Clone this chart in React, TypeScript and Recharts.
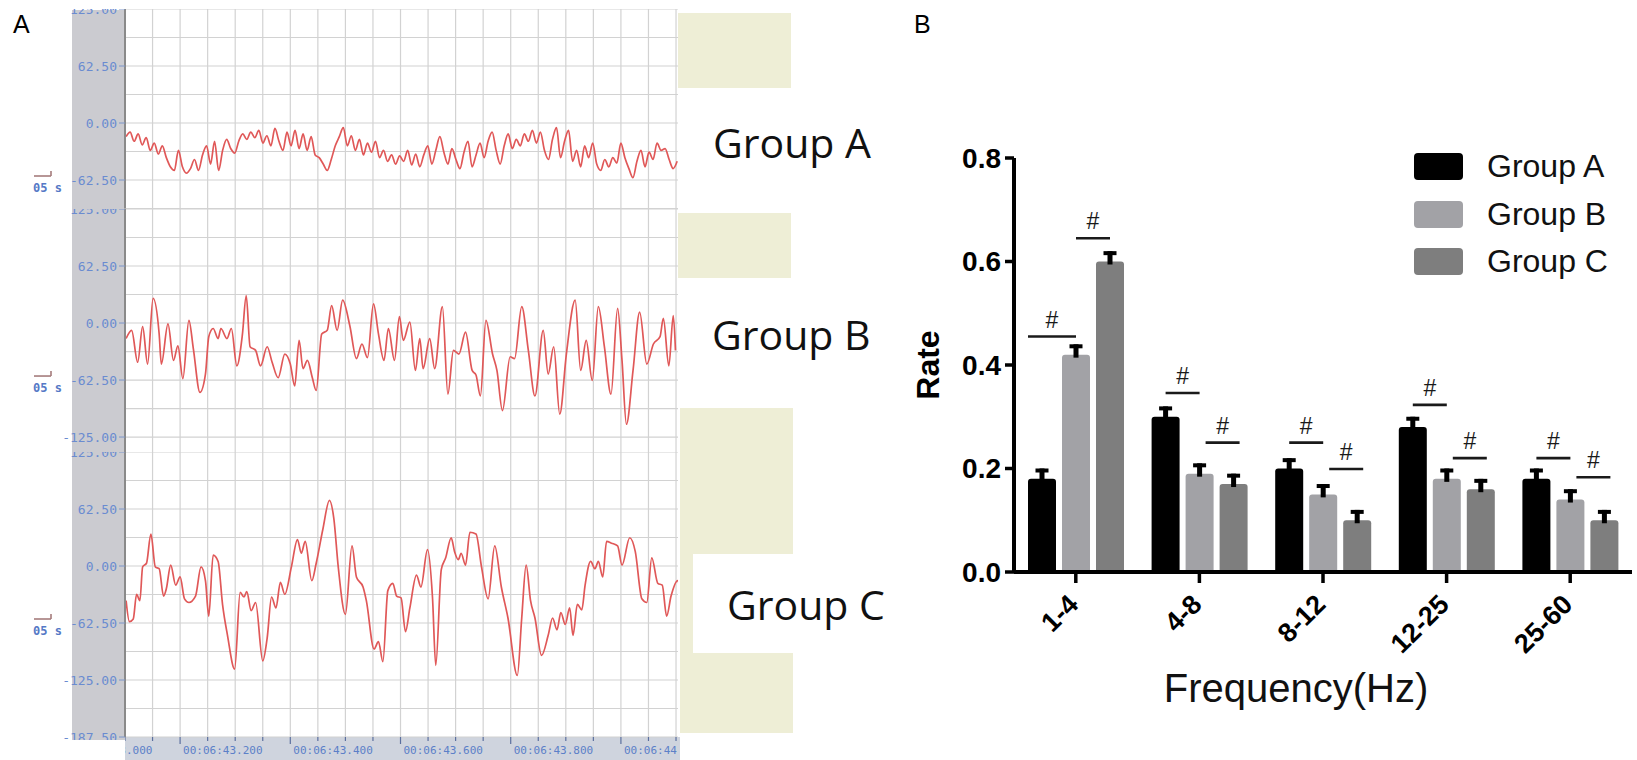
import { BarChart, Bar, XAxis, YAxis, Legend, Label, LineChart, Line, CartesianGrid } from 'recharts'

// ---------- Panel B data ----------
const bands = ['1-4', '4-8', '8-12', '12-25', '25-60']
const groupA = [0.18, 0.3, 0.2, 0.28, 0.18]
const groupB = [0.42, 0.19, 0.15, 0.18, 0.14]
const groupC = [0.6, 0.17, 0.1, 0.16, 0.1]
const semA = [0.02, 0.02, 0.02, 0.02, 0.02]
const semB = [0.02, 0.02, 0.02, 0.02, 0.02]
const semC = [0.02, 0.02, 0.02, 0.02, 0.02]
// height of the "#" bracket, A vs B and B vs C
const sigAB = [0.455, 0.346, 0.25, 0.323, 0.22]
const sigBC = [0.645, 0.25, 0.199, 0.22, 0.183]
const rateTicks = [0, 0.2, 0.4, 0.6, 0.8]

// ---------- Panel A data (EEG, microvolts) ----------
const T0 = 43.1 // 00:06:43.100
const groupATraceStartMs = 2
const groupATraceStepMs = 7.3
const groupATrace = [
	-15, -10, -20, -12, -24, -16, -30, -22, -34, -25,
	-38, -48, -52, -30, -48, -55, -50, -40, -52, -35,
	-25, -45, -20, -52, -30, -18, -28, -33, -20, -12,
	-18, -10, -16, -8, -22, -14, -25, -6, -20, -30,
	-10, -25, -8, -28, -12, -30, -15, -35, -38, -45,
	-52, -40, -25, -15, -5, -25, -14, -30, -18, -35,
	-22, -32, -20, -38, -30, -42, -35, -45, -36, -42,
	-30, -46, -34, -48, -35, -25, -45, -30, -15, -32,
	-45, -28, -40, -50, -32, -20, -48, -35, -22, -38,
	-20, -10, -30, -45, -25, -12, -28, -18, -25, -12,
	-20, -8, -22, -10, -30, -40, -18, -5, -38, -20,
	-8, -42, -30, -48, -25, -38, -22, -45, -52, -40,
	-48, -38, -44, -22, -38, -50, -60, -42, -30, -48,
	-32, -40, -22, -30, -28, -40, -50, -42,
]
// [ms after 43.100 s, value]
const groupBTrace: [number, number][] = [
	[2, -17], [12, -8], [23, -43], [32, -4], [41, -45], [51, 27], [62, -12], [66, -45], [78, -1], [88, -41],
	[96, -25], [105, -61], [116, 3], [124, -28], [136, -76], [146, -56], [152, -15], [160, -6], [169, -17], [174, -6],
	[185, -17], [193, -6], [203, -47], [213, -13], [220, 30], [227, -26], [237, -30], [246, -47], [258, -26], [267, -43],
	[278, -60], [290, -34], [300, -45], [308, -69], [316, -19], [323, -50], [331, -41], [340, -60], [347, -74], [357, -12],
	[367, -8], [375, 19], [385, -8], [395, 25], [408, -3], [420, -39], [430, -23], [440, -38], [451, 21], [460, -12],
	[470, -41], [478, -6], [489, -41], [498, 7], [505, -19], [517, 1], [527, -52], [535, -17], [541, -50], [553, -17],
	[562, -50], [576, 18], [586, -78], [596, -30], [606, -34], [618, -10], [630, -52], [637, -57], [645, -80], [655, 3],
	[667, -34], [675, -52], [685, -96], [699, -37], [707, -39], [720, 18], [732, -30], [744, -80], [759, -8], [768, -56],
	[778, -26], [789, -100], [801, -34], [817, 25], [827, -52], [837, -19], [848, -63], [859, 18], [870, -26], [882, -78],
	[894, 16], [902, -41], [910, -111], [922, -52], [934, 12], [947, -45], [959, -23], [971, -15], [977, 5], [987, -47],
	[995, 8], [999, -30],
]
const groupCTrace: [number, number][] = [
	[2, -38], [8, -61], [15, -58], [21, -31], [27, -38], [32, -1], [39, 3], [47, 35], [55, -1], [62, -3],
	[70, -33], [75, -25], [83, 1], [92, -21], [100, -12], [108, -36], [116, -40], [128, -33], [138, -1], [146, -16],
	[152, -55], [160, 12], [169, 5], [177, -42], [186, -76], [199, -113], [209, -29], [216, -34], [221, -28], [229, -49],
	[237, -40], [250, -104], [258, -79], [266, -34], [274, -46], [282, -18], [290, -31], [302, -1], [313, 29], [320, 14],
	[327, 27], [339, -16], [347, 3], [359, 40], [371, 72], [379, 52], [387, -1], [400, -53], [412, 22], [420, -12],
	[432, -23], [438, -38], [452, -91], [460, -83], [468, -105], [477, -27], [486, -19], [493, -33], [501, -35], [509, -72],
	[517, -46], [529, -10], [537, -23], [549, 18], [558, -34], [564, -109], [574, -4], [582, 9], [592, 31], [598, 16],
	[605, 7], [610, 14], [618, 1], [626, 37], [637, 35], [647, -1], [659, -36], [671, 22], [683, -23], [695, -57],
	[712, -120], [720, -57], [728, 1], [736, -38], [744, -57], [756, -98], [768, -76], [776, -57], [784, -70], [791, -51],
	[799, -64], [807, -46], [813, -76], [821, -42], [829, -48], [835, -21], [845, 5], [853, -3], [859, 5], [867, -12],
	[874, 27], [883, 25], [894, 22], [902, 1], [916, 31], [926, 16], [938, -36], [947, -40], [956, 9], [967, -19],
	[975, -21], [983, -55], [991, -33], [1003, -16], [1010, -70],
]
const channelTicks = [125, 62.5, 0, -62.5, -125, -187.5]

const TIME_DOMAIN: [number, number] = [43.1, 44.1036]
const gridTimes: number[] = []
for (let k = 4310; k <= 4410; k += 5) gridTimes.push(k / 100)
const timeTicks: number[] = []
for (let k = 4300; k <= 4410; k += 5) timeTicks.push(k / 100)

const SANS = '"Liberation Sans", Arial, sans-serif'
const MONO = '"DejaVu Sans Mono", monospace'
const OPEN = '"Open Sans", sans-serif'
const BEIGE = '#eeeed6'
const BAR_GAP = 6

const rowsA = groupATrace.map((v, i) => ({ t: T0 + (groupATraceStartMs + i * groupATraceStepMs) / 1000, v }))
const toRows = (pts: [number, number][]) => pts.map(([ms, v]) => ({ t: T0 + ms / 1000, v }))

function EegTick(props: any) {
	const { x, y, payload } = props
	const v = payload.value as number
	return (
		<g>
			<text x={x} y={y} dy={4.5} textAnchor="end" fontFamily={MONO} fontSize={13} fill="#6a8bd0">
				{v.toFixed(2)}
			</text>
			{v === -62.5 && (
				<g>
					<line x1={34} x2={51} y1={y - 4} y2={y - 4} stroke="#a57c7c" strokeWidth={1.6} />
					<line x1={51} x2={51} y1={y - 9} y2={y - 4} stroke="#a57c7c" strokeWidth={1.6} />
					<text x={33} y={y + 12} fontFamily={MONO} fontSize={12} fontWeight={700} fill="#5579c6">
						05 s
					</text>
				</g>
			)}
		</g>
	)
}

function TimeTick(props: any) {
	const { x, y, payload } = props
	const t = payload.value as number
	const major = Math.round(t * 100) % 20 === 0
	return (
		<g>
			<line x1={x} x2={x} y1={y} y2={y + (major ? 7 : 4)} stroke="#5b6f9e" strokeWidth={1.2} />
			{major && (
				<text x={x + 3} y={y + 17} fontFamily={MONO} fontSize={11} fill="#5c80c8">
					{`00:06:${t.toFixed(3)}`}
				</text>
			)}
		</g>
	)
}

type ChannelProps = {
	rows: { t: number; v: number }[]
	top: number
	plotHeight: number
	domain: [number, number]
	bottomPad?: number
}

function Channel({ rows, top, plotHeight, domain, bottomPad = 0 }: ChannelProps) {
	const ticks = channelTicks.filter((v) => v >= domain[0] - 0.01 && v <= domain[1] + 0.01)
	const gridValues: number[] = []
	for (let k = -6; k <= 4; k++) {
		const v = k * 31.25
		if (v >= domain[0] - 0.01 && v <= domain[1] + 0.01) gridValues.push(v)
	}
	const vGen = (p: any) => {
		const s = p?.xAxis?.scale
		if (typeof s === 'function') return gridTimes.map((t) => s(t))
		const o = p.offset
		return gridTimes.map((t) => o.left + ((t - TIME_DOMAIN[0]) / (TIME_DOMAIN[1] - TIME_DOMAIN[0])) * o.width)
	}
	const hGen = (p: any) => {
		const s = p?.yAxis?.scale
		if (typeof s === 'function') return gridValues.map((v) => s(v))
		const o = p.offset
		return gridValues.map((v) => o.top + ((domain[1] - v) / (domain[1] - domain[0])) * o.height)
	}
	return (
		<div style={{ position: 'absolute', left: 0, top }}>
			<LineChart
				width={678}
				height={plotHeight + bottomPad}
				data={rows}
				margin={{ top: 0, right: 0, bottom: bottomPad, left: 72 }}
			>
				<CartesianGrid
					stroke="#d2d2d2"
					strokeWidth={1.2}
					verticalCoordinatesGenerator={vGen}
					horizontalCoordinatesGenerator={hGen}
				/>
				<XAxis dataKey="t" type="number" domain={TIME_DOMAIN} allowDataOverflow hide />
				<YAxis
					type="number"
					domain={domain}
					allowDataOverflow
					ticks={ticks}
					interval={0}
					width={53}
					tickSize={6}
					tickMargin={2}
					axisLine={{ stroke: '#8a8a8a', strokeWidth: 2 }}
					tickLine={{ stroke: '#7d96c9' }}
					tick={<EegTick />}
				/>
				<Line
					dataKey="v"
					type="monotone"
					stroke="#e05858"
					strokeWidth={1.7}
					dot={false}
					isAnimationActive={false}
				/>
			</LineChart>
		</div>
	)
}

function makeBarShape(key: 'a' | 'b' | 'c') {
	return (props: any) => {
		const { x, y, width, height, fill, payload } = props
		const value = payload[key] as number
		const err = payload['sem_' + key] as number
		const base = y + height
		const ppu = height / value
		const cx = x + width / 2
		const r = 3
		const d = `M${x},${base} L${x},${y + r} Q${x},${y} ${x + r},${y} L${x + width - r},${y} Q${x + width},${y} ${x + width},${y + r} L${x + width},${base} Z`
		const capY = y - err * ppu
		let sig = null
		if (key === 'b' || key === 'c') {
			const level = key === 'b' ? payload.sigAB : payload.sigBC
			const shift = key === 'c' && payload.band !== '1-4' ? 6 : 0
			const x1 = cx - (width + BAR_GAP) + shift - (key === 'b' && payload.band === '1-4' ? 14 : 0)
			const x2 = cx + shift
			const ly = base - level * ppu
			sig = (
				<g>
					<line x1={x1} x2={x2} y1={ly} y2={ly} stroke="#1a1a1a" strokeWidth={2.6} />
					<text x={(x1 + x2) / 2} y={ly - 9} textAnchor="middle" fontFamily={SANS} fontSize={23} fill="#1a1a1a">
						#
					</text>
				</g>
			)
		}
		return (
			<g>
				<path d={d} fill={fill} />
				<rect x={cx - 2.5} y={capY} width={5} height={y - capY + 3} fill="#000" />
				<rect x={cx - 6.5} y={capY} width={13} height={4} fill="#000" />
				{sig}
			</g>
		)
	}
}

function BandTick(props: any) {
	const { x, y, payload } = props
	const ax = x + 4
	const ay = y + 21
	return (
		<text
			x={ax}
			y={ay}
			textAnchor="end"
			transform={`rotate(-45 ${ax} ${ay})`}
			fontFamily={SANS}
			fontSize={27}
			fontWeight={700}
			fill="#000"
		>
			{payload.value}
		</text>
	)
}

const renderLegend = (props: any) => (
	<div style={{ fontFamily: SANS, fontSize: 32, color: '#111' }}>
		{props.payload.map((entry: any) => (
			<div key={entry.value} style={{ display: 'flex', alignItems: 'center', height: 47.5 }}>
				<span
					style={{
						display: 'inline-block',
						width: 49,
						height: 27,
						background: entry.color,
						borderRadius: 4,
						marginRight: 24,
					}}
				/>
				<span>{entry.value}</span>
			</div>
		))}
	</div>
)

export default function App() {
	const barRows = bands.map((band, i) => ({
		band,
		a: groupA[i],
		b: groupB[i],
		c: groupC[i],
		sem_a: semA[i],
		sem_b: semB[i],
		sem_c: semC[i],
		sigAB: sigAB[i],
		sigBC: sigBC[i],
	}))

	return (
		<div style={{ position: 'absolute', left: 0, top: 0, width: 1637, height: 760, background: '#fff' }}>
			<svg width={1637} height={760} style={{ position: 'absolute', left: 0, top: 0 }}>
				<rect x={72} y={10} width={53} height={730} fill="#cbcbd0" />
				<rect x={125} y={737} width={555} height={23} fill="#cfd4de" />
				<rect x={678} y={13} width={113} height={75} fill={BEIGE} />
				<rect x={678} y={213} width={113} height={65} fill={BEIGE} />
				<rect x={680} y={408} width={113} height={325} fill={BEIGE} />
				<rect x={693} y={554} width={130} height={99} fill="#fff" />
				<text x={13} y={33} fontFamily={SANS} fontSize={25} fill="#000">A</text>
				<text x={914} y={33} fontFamily={SANS} fontSize={25} fill="#000">B</text>
				<text x={713} y={158} fontFamily={OPEN} fontSize={41} fill="#111">Group A</text>
				<text x={712} y={350} fontFamily={OPEN} fontSize={41} fill="#111">Group B</text>
				<text x={727} y={620} fontFamily={OPEN} fontSize={41} fill="#111">Group C</text>
			</svg>

			<Channel rows={rowsA} top={9} plotHeight={199.5} domain={[-93.75, 125]} />
			<Channel rows={toRows(groupBTrace)} top={209} plotHeight={243} domain={[-141.4, 125]} />
			<Channel rows={toRows(groupCTrace)} top={452} plotHeight={285} domain={[-187.5, 125]} bottomPad={3} />

			<div style={{ position: 'absolute', left: 125, top: 600 }}>
				<LineChart width={553} height={160} data={toRows(groupCTrace)} margin={{ top: 0, right: 0, bottom: 0, left: 0 }}>
					<XAxis
						dataKey="t"
						type="number"
						domain={TIME_DOMAIN}
						allowDataOverflow
						ticks={timeTicks}
						interval={0}
						height={23}
						tickSize={0}
						tickMargin={0}
						axisLine={false}
						tickLine={false}
						tick={<TimeTick />}
					/>
					<YAxis hide />
				</LineChart>
			</div>

			<div style={{ position: 'absolute', left: 880, top: 0 }}>
				<BarChart
					width={757}
					height={760}
					data={barRows}
					margin={{ top: 158, right: 5, bottom: 128, left: 74 }}
					barCategoryGap={14}
					barGap={BAR_GAP}
				>
					<XAxis
						dataKey="band"
						height={60}
						interval={0}
						tickSize={11}
						tickMargin={2}
						axisLine={{ stroke: '#000', strokeWidth: 4 }}
						tickLine={{ stroke: '#000', strokeWidth: 3.5 }}
						tick={<BandTick />}
					>
						<Label
							content={(p: any) => {
								const vb = p.viewBox
								return (
									<text
										x={vb.x + vb.width / 2 - 27}
										y={vb.y + 130}
										textAnchor="middle"
										fontFamily={SANS}
										fontSize={40}
										fill="#111"
									>
										Frequency(Hz)
									</text>
								)
							}}
						/>
					</XAxis>
					<YAxis
						type="number"
						domain={[0, 0.8]}
						ticks={rateTicks}
						interval={0}
						width={60}
						tickSize={9}
						tickMargin={4}
						tickFormatter={(v: number) => v.toFixed(1)}
						axisLine={{ stroke: '#000', strokeWidth: 4 }}
						tickLine={{ stroke: '#000', strokeWidth: 3.5 }}
						tick={{ fontFamily: SANS, fontSize: 28, fontWeight: 700, fill: '#000' }}
					>
						<Label
							content={(p: any) => {
								const vb = p.viewBox
								const cx = vb.x - 26
								const cy = vb.y + vb.height / 2
								return (
									<text
										x={cx}
										y={cy}
										transform={`rotate(-90 ${cx} ${cy})`}
										textAnchor="middle"
										dominantBaseline="central"
										fontFamily={SANS}
										fontSize={32}
										fontWeight={700}
										fill="#000"
									>
										Rate
									</text>
								)
							}}
						/>
					</YAxis>
					<Legend
						layout="vertical"
						align="center"
						verticalAlign="middle"
						content={renderLegend}
						wrapperStyle={{ left: 534, top: 143, width: 220 }}
					/>
					<Bar dataKey="a" name="Group A" fill="#000000" shape={makeBarShape('a')} isAnimationActive={false} />
					<Bar dataKey="b" name="Group B" fill="#a2a2a6" shape={makeBarShape('b')} isAnimationActive={false} />
					<Bar dataKey="c" name="Group C" fill="#7e7e7e" shape={makeBarShape('c')} isAnimationActive={false} />
				</BarChart>
			</div>
		</div>
	)
}
